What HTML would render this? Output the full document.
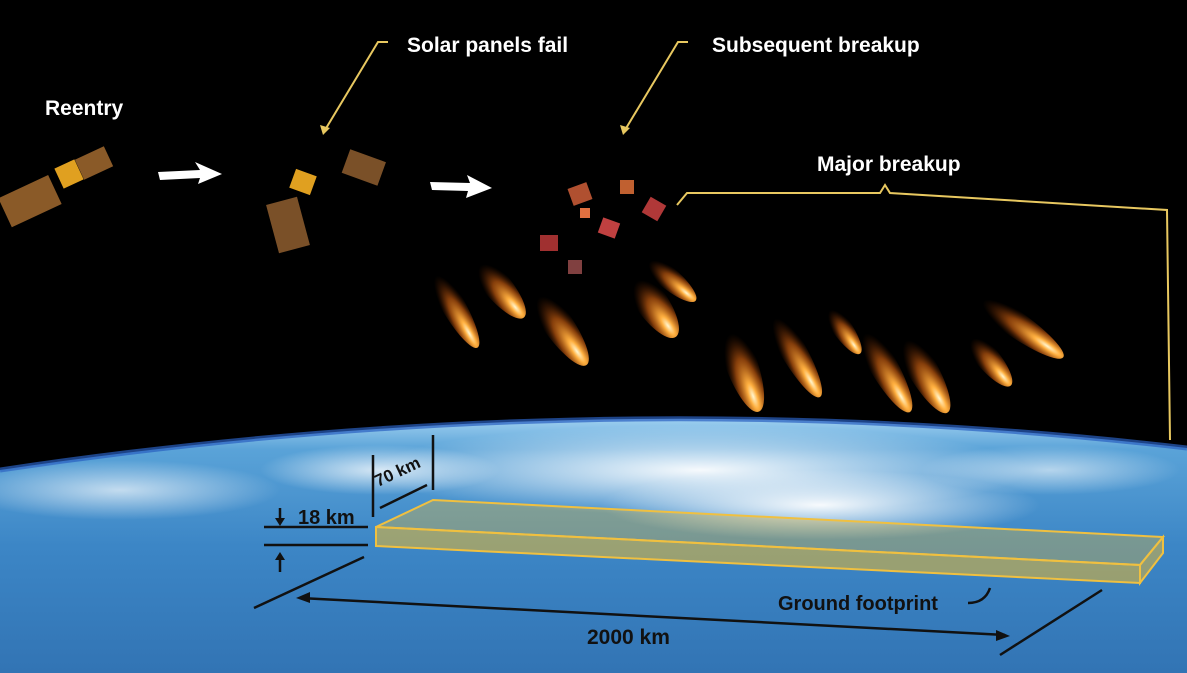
<!DOCTYPE html>
<html><head><meta charset="utf-8"><style>
html,body{margin:0;padding:0;background:#000;}
svg{display:block;}
text{font-family:"Liberation Sans",sans-serif;font-weight:bold;}
</style></head><body>
<svg width="1187" height="673" viewBox="0 0 1187 673">
<defs>
<linearGradient id="earth" x1="0" y1="0" x2="0" y2="1">
<stop offset="0" stop-color="#9fd0f0"/><stop offset="0.12" stop-color="#5aa3d8"/><stop offset="0.5" stop-color="#3c86c6"/><stop offset="1" stop-color="#3274b4"/>
</linearGradient>
<radialGradient id="fire" cx="0.85" cy="0.5" r="0.6">
<stop offset="0" stop-color="#fff6d0"/><stop offset="0.2" stop-color="#ffb040"/><stop offset="0.6" stop-color="#c05a10" stop-opacity="0.7"/><stop offset="1" stop-color="#602000" stop-opacity="0"/>
</radialGradient>
<radialGradient id="cloud" cx="0.5" cy="0.5" r="0.5">
<stop offset="0" stop-color="#fff" stop-opacity="0.95"/><stop offset="1" stop-color="#fff" stop-opacity="0"/>
</radialGradient>
</defs>
<rect width="1187" height="673" fill="#000"/>
<path d="M0,470 Q600,380 1187,448 L1187,673 L0,673 Z" fill="url(#earth)"/>
<path d="M0,470 Q600,380 1187,448" fill="none" stroke="#2a60c0" stroke-width="5" opacity="0.7"/>
<g>
<ellipse cx="700" cy="470" rx="330" ry="45" fill="url(#cloud)"/>
<ellipse cx="820" cy="505" rx="220" ry="35" fill="url(#cloud)"/>
<ellipse cx="120" cy="490" rx="160" ry="30" fill="url(#cloud)" opacity="0.7"/>
<ellipse cx="380" cy="470" rx="120" ry="25" fill="url(#cloud)" opacity="0.8"/>
<ellipse cx="1050" cy="470" rx="130" ry="25" fill="url(#cloud)" opacity="0.6"/>
</g>
<g>
<ellipse cx="450" cy="300" rx="55" ry="12" transform="rotate(60 450 300)" fill="url(#fire)"/>
<ellipse cx="495" cy="283" rx="45" ry="14" transform="rotate(50 495 283)" fill="url(#fire)"/>
<ellipse cx="555" cy="320" rx="55" ry="15" transform="rotate(55 555 320)" fill="url(#fire)"/>
<ellipse cx="650" cy="300" rx="45" ry="16" transform="rotate(55 650 300)" fill="url(#fire)"/>
<ellipse cx="665" cy="275" rx="40" ry="11" transform="rotate(40 665 275)" fill="url(#fire)"/>
<ellipse cx="740" cy="360" rx="55" ry="16" transform="rotate(70 740 360)" fill="url(#fire)"/>
<ellipse cx="790" cy="345" rx="60" ry="13" transform="rotate(60 790 345)" fill="url(#fire)"/>
<ellipse cx="880" cy="360" rx="60" ry="14" transform="rotate(60 880 360)" fill="url(#fire)"/>
<ellipse cx="920" cy="365" rx="55" ry="15" transform="rotate(60 920 365)" fill="url(#fire)"/>
<ellipse cx="985" cy="355" rx="40" ry="12" transform="rotate(50 985 355)" fill="url(#fire)"/>
<ellipse cx="1010" cy="320" rx="65" ry="13" transform="rotate(35 1010 320)" fill="url(#fire)"/>
<ellipse cx="840" cy="325" rx="35" ry="10" transform="rotate(55 840 325)" fill="url(#fire)"/>
</g>
<g fill="#b05030">
<rect x="570" y="185" width="20" height="18" transform="rotate(-20 580 194)"/>
<rect x="600" y="220" width="18" height="16" fill="#c04040" transform="rotate(20 609 228)"/>
<rect x="540" y="235" width="18" height="16" fill="#a03030"/>
<rect x="645" y="200" width="18" height="18" fill="#b03838" transform="rotate(30 654 209)"/>
<rect x="620" y="180" width="14" height="14" fill="#c06030"/>
<rect x="568" y="260" width="14" height="14" fill="#804040"/>
<rect x="580" y="208" width="10" height="10" fill="#e07040"/>
</g>
<g>
<rect x="2" y="185" width="55" height="32" fill="#8a5a28" transform="rotate(-25 30 200)"/>
<rect x="58" y="163" width="22" height="22" fill="#e0a020" transform="rotate(-25 69 174)"/>
<rect x="78" y="152" width="32" height="22" fill="#8a5a28" transform="rotate(-25 94 163)"/>
</g>
<g>
<rect x="272" y="200" width="32" height="50" fill="#7a5028" transform="rotate(-15 288 225)"/>
<rect x="292" y="172" width="22" height="20" fill="#e0a020" transform="rotate(20 303 182)"/>
<rect x="345" y="155" width="38" height="25" fill="#7a5028" transform="rotate(20 364 167)"/>
</g>
<polygon points="158,172 200,170 195,162 222,174 198,184 200,178 160,180" fill="#fff"/>
<polygon points="430,182 470,183 467,175 492,188 466,198 468,191 432,190" fill="#fff"/>
<g stroke="#e8c860" stroke-width="2" fill="none">
<polyline points="388,42 378,42 325,130"/>
<polyline points="688,42 678,42 625,130"/>
<polyline points="677,205 687,193 880,193 885,185 890,193 1167,210 1170,440"/>
</g>
<polygon points="323,135 320,125 330,128" fill="#e8c860"/><polygon points="623,135 620,125 630,128" fill="#e8c860"/>
<g stroke="#f0c040" stroke-width="2">
<polygon points="376,527 433,500 1163,537 1140,565" fill="#e8b830" fill-opacity="0.35"/>
<polygon points="376,527 1140,565 1140,583 376,546" fill="#e8b830" fill-opacity="0.55"/>
<polygon points="1140,565 1163,537 1163,553 1140,583" fill="#e8b830" fill-opacity="0.5"/>
</g>
<g stroke="#111" stroke-width="2.5" fill="#111">
<line x1="264" y1="527" x2="368" y2="527"/><line x1="264" y1="545" x2="368" y2="545"/>
<line x1="280" y1="508" x2="280" y2="520"/><polygon points="275,518 285,518 280,526" stroke="none"/>
<line x1="280" y1="560" x2="280" y2="572"/><polygon points="275,560 285,560 280,552" stroke="none"/>
<line x1="373" y1="455" x2="373" y2="517"/><line x1="433" y1="435" x2="433" y2="490"/>
<line x1="380" y1="508" x2="427" y2="485"/>
<line x1="254" y1="608" x2="364" y2="557"/>
<line x1="300" y1="598" x2="1005" y2="635"/><polygon points="296,598 310,592 310,603" stroke="none"/><polygon points="1010,636 996,630 996,641" stroke="none"/>
<line x1="1000" y1="655" x2="1102" y2="590"/>
<path d="M968,603 Q985,603 990,588" fill="none"/>
</g>
<text x="45" y="115" font-size="21" fill="#fff">Reentry</text>
<text x="407" y="52" font-size="21" fill="#fff">Solar panels fail</text>
<text x="712" y="52" font-size="21" fill="#fff">Subsequent breakup</text>
<text x="817" y="171" font-size="21" fill="#fff">Major breakup</text>
<text x="298" y="524" font-size="20" fill="#111">18 km</text>
<text x="378" y="487" font-size="17" fill="#111" transform="rotate(-25 378 487)">70 km</text>
<text x="778" y="610" font-size="20" fill="#111">Ground footprint</text>
<text x="587" y="644" font-size="21" fill="#111">2000 km</text>
</svg>
</body></html>
